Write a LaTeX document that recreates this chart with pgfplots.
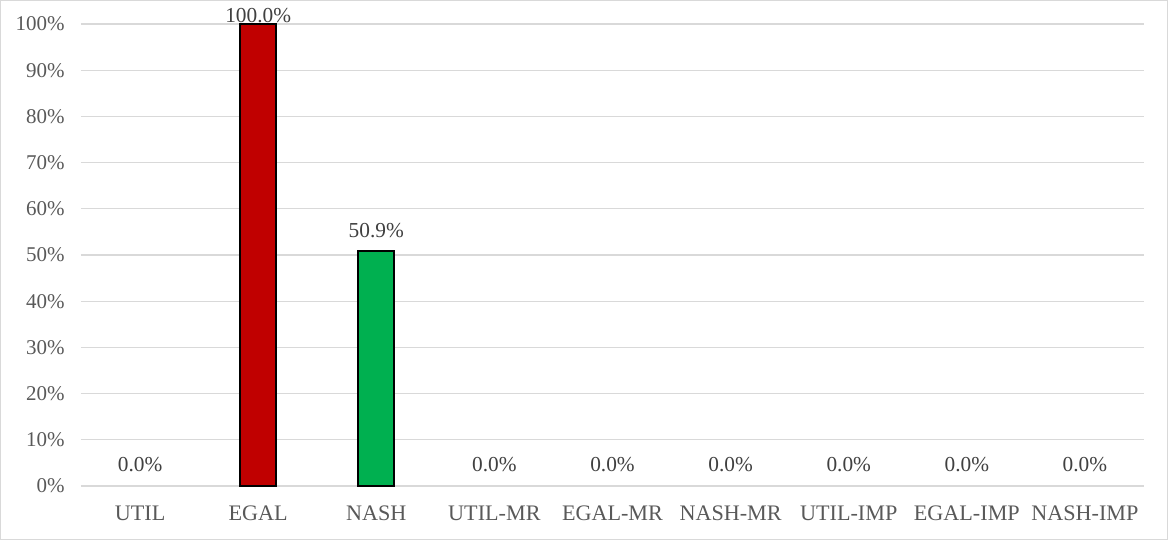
\documentclass[border=0pt]{standalone}
\usepackage{fontspec}
\setmainfont{Liberation Serif}
\usepackage{pgfplots}
\pgfplotsset{compat=1.18}
\definecolor{barred}{HTML}{C00000}
\definecolor{bargreen}{HTML}{00B050}
\definecolor{gridc}{HTML}{D9D9D9}
\definecolor{tickc}{HTML}{595959}
\definecolor{lblc}{HTML}{404040}
\begin{document}
\begin{tikzpicture}
\begin{axis}[
  at={(48.6pt,32.4pt)}, anchor=south west,
  scale only axis,
  width=637.8pt, height=277.2pt,
  xmin=-0.5, xmax=8.5,
  ymin=0, ymax=100,
  ybar, bar width=21.6pt, bar shift=0pt,
  /pgf/number format/assume math mode=true,
  font=\fontsize{12.6}{14}\selectfont,
  axis line style={draw=none},
  major tick length=0pt,
  ymajorgrids,
  grid style={gridc, line width=0.75pt},
  ytick={0,10,...,100},
  yticklabel={\pgfmathprintnumber{\tick}\%},
  yticklabel style={anchor=east, inner sep=0pt, xshift=-9.6pt, text=tickc, font=\fontsize{12.6}{14}\selectfont},
  xtick={0,...,8},
  xticklabels={UTIL,EGAL,NASH,UTIL-MR,EGAL-MR,NASH-MR,UTIL-IMP,EGAL-IMP,NASH-IMP},
  xticklabel style={anchor=center, inner sep=0pt, yshift=-16.2pt, text=tickc, font=\fontsize{13.3}{15}\selectfont},
  nodes near coords={\pgfmathprintnumber[fixed,fixed zerofill,precision=1]{\pgfplotspointmeta}\%},
]
\addplot[draw=none, fill=none, nodes near coords style={anchor=center, inner sep=0pt, yshift=12.6pt, text=lblc, font=\fontsize{12.8}{14}\selectfont}] coordinates {(0,0) (3,0) (4,0) (5,0) (6,0) (7,0) (8,0)};
\addplot[fill=barred, draw=black, line width=1pt, nodes near coords style={anchor=center, inner sep=0pt, yshift=4.8pt, text=lblc, font=\fontsize{12.8}{14}\selectfont}] coordinates {(1,100)};
\addplot[fill=bargreen, draw=black, line width=1pt, nodes near coords style={anchor=center, inner sep=0pt, yshift=12.3pt, text=lblc, font=\fontsize{12.8}{14}\selectfont}] coordinates {(2,50.9)};
\end{axis}
\pgfresetboundingbox
\useasboundingbox (0,0) rectangle (700.8pt,324pt);
\draw[gridc, line width=0.6pt] (0.3pt,0.3pt) rectangle (700.5pt,323.7pt);
\end{tikzpicture}
\end{document}
